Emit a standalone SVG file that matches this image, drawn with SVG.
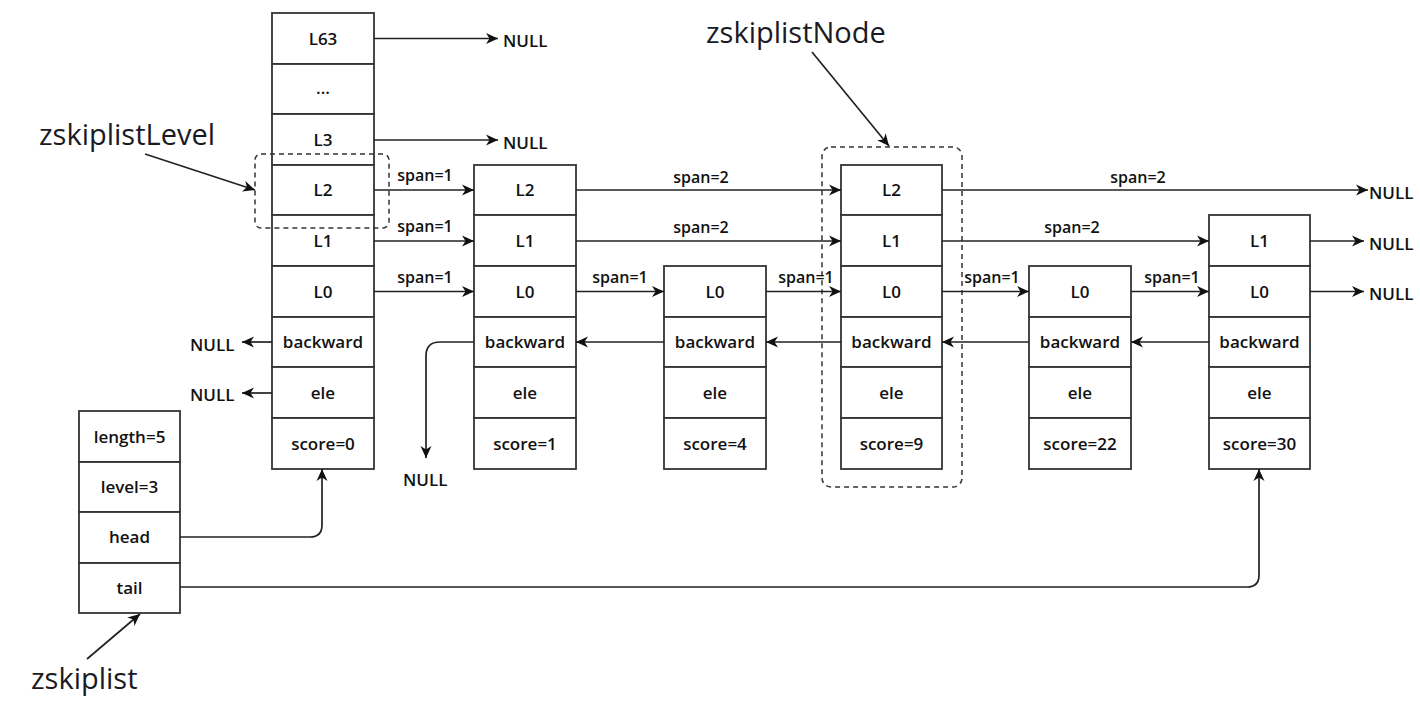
<svg xmlns="http://www.w3.org/2000/svg" width="1420" height="702" viewBox="0 0 1420 702">
<style>
.box{fill:#fff;stroke:#333;stroke-width:1.8}
.t{font-family:"Open Sans","Noto Sans",sans-serif;font-weight:600;font-size:17px;fill:#111;text-anchor:middle}
.s{font-family:"Open Sans","Noto Sans",sans-serif;font-weight:600;font-size:16px;fill:#111;text-anchor:middle}
.n{font-family:"Open Sans","Noto Sans",sans-serif;font-weight:600;font-size:17px;fill:#111}
.big{font-family:"Open Sans","Noto Sans",sans-serif;font-size:29px;fill:#1a1a24}
.c{fill:none;stroke:#222;stroke-width:1.7}
.dash{fill:none;stroke:#333;stroke-width:1.5;stroke-dasharray:5 4}
</style>
<defs>
<marker id="a" markerUnits="userSpaceOnUse" markerWidth="14" markerHeight="12" viewBox="0 0 14 12" refX="12" refY="6" orient="auto">
<path d="M0,0.5 L12,6 L0,11.5 L3.5,6 Z" fill="#111"/>
</marker>
</defs>
<rect width="1420" height="702" fill="#fff"/>

<g id="head">
<rect class="box" x="272" y="13" width="102" height="51"/>
<rect class="box" x="272" y="64" width="102" height="50"/>
<rect class="box" x="272" y="114" width="102" height="51"/>
<rect class="box" x="272" y="165" width="102" height="50"/>
<rect class="box" x="272" y="215" width="102" height="51"/>
<rect class="box" x="272" y="266" width="102" height="51"/>
<rect class="box" x="272" y="317" width="102" height="50"/>
<rect class="box" x="272" y="367" width="102" height="51"/>
<rect class="box" x="272" y="418" width="102" height="51"/>
<text class="t" x="323" y="45">L63</text>
<text class="t" x="323" y="94">...</text>
<text class="t" x="323" y="146">L3</text>
<text class="t" x="323" y="196">L2</text>
<text class="t" x="323" y="247">L1</text>
<text class="t" x="323" y="298">L0</text>
<text class="t" x="323" y="348">backward</text>
<text class="t" x="323" y="399">ele</text>
<text class="t" x="323" y="450">score=0</text>
</g>

<g id="node1">
<rect class="box" x="474" y="165" width="102" height="50"/>
<rect class="box" x="474" y="215" width="102" height="51"/>
<rect class="box" x="474" y="266" width="102" height="51"/>
<rect class="box" x="474" y="317" width="102" height="50"/>
<rect class="box" x="474" y="367" width="102" height="51"/>
<rect class="box" x="474" y="418" width="102" height="51"/>
<text class="t" x="525" y="196">L2</text>
<text class="t" x="525" y="247">L1</text>
<text class="t" x="525" y="298">L0</text>
<text class="t" x="525" y="348">backward</text>
<text class="t" x="525" y="399">ele</text>
<text class="t" x="525" y="450">score=1</text>
</g>

<g id="node2">
<rect class="box" x="664" y="266" width="102" height="51"/>
<rect class="box" x="664" y="317" width="102" height="50"/>
<rect class="box" x="664" y="367" width="102" height="51"/>
<rect class="box" x="664" y="418" width="102" height="51"/>
<text class="t" x="715" y="298">L0</text>
<text class="t" x="715" y="348">backward</text>
<text class="t" x="715" y="399">ele</text>
<text class="t" x="715" y="450">score=4</text>
</g>

<g id="node3">
<rect class="box" x="841" y="165" width="101" height="50"/>
<rect class="box" x="841" y="215" width="101" height="51"/>
<rect class="box" x="841" y="266" width="101" height="51"/>
<rect class="box" x="841" y="317" width="101" height="50"/>
<rect class="box" x="841" y="367" width="101" height="51"/>
<rect class="box" x="841" y="418" width="101" height="51"/>
<text class="t" x="891.5" y="196">L2</text>
<text class="t" x="891.5" y="247">L1</text>
<text class="t" x="891.5" y="298">L0</text>
<text class="t" x="891.5" y="348">backward</text>
<text class="t" x="891.5" y="399">ele</text>
<text class="t" x="891.5" y="450">score=9</text>
</g>

<g id="node4">
<rect class="box" x="1029" y="266" width="102" height="51"/>
<rect class="box" x="1029" y="317" width="102" height="50"/>
<rect class="box" x="1029" y="367" width="102" height="51"/>
<rect class="box" x="1029" y="418" width="102" height="51"/>
<text class="t" x="1080" y="298">L0</text>
<text class="t" x="1080" y="348">backward</text>
<text class="t" x="1080" y="399">ele</text>
<text class="t" x="1080" y="450">score=22</text>
</g>

<g id="node5">
<rect class="box" x="1209" y="215" width="101" height="51"/>
<rect class="box" x="1209" y="266" width="101" height="51"/>
<rect class="box" x="1209" y="317" width="101" height="50"/>
<rect class="box" x="1209" y="367" width="101" height="51"/>
<rect class="box" x="1209" y="418" width="101" height="51"/>
<text class="t" x="1259.5" y="247">L1</text>
<text class="t" x="1259.5" y="298">L0</text>
<text class="t" x="1259.5" y="348">backward</text>
<text class="t" x="1259.5" y="399">ele</text>
<text class="t" x="1259.5" y="450">score=30</text>
</g>

<g id="zskiplist">
<rect class="box" x="79" y="411" width="101" height="51"/>
<rect class="box" x="79" y="462" width="101" height="50"/>
<rect class="box" x="79" y="512" width="101" height="51"/>
<rect class="box" x="79" y="563" width="101" height="50"/>
<text class="t" x="129.5" y="443">length=5</text>
<text class="t" x="129.5" y="493">level=3</text>
<text class="t" x="129.5" y="543">head</text>
<text class="t" x="129.5" y="594">tail</text>
</g>

<g id="annotations">
<rect class="dash" x="255" y="154" width="134" height="74" rx="6"/>
<rect class="dash" x="822" y="147" width="140" height="340" rx="9"/>
<text class="big" x="39" y="145">zskiplistLevel</text>
<text class="big" x="706" y="43">zskiplistNode</text>
<text class="big" x="31" y="689">zskiplist</text>
</g>

<g id="connectors">
<line class="c" x1="145" y1="154" x2="255" y2="190" marker-end="url(#a)"/>
<line class="c" x1="812" y1="52" x2="889" y2="146" marker-end="url(#a)"/>
<line class="c" x1="87" y1="659" x2="140" y2="614" marker-end="url(#a)"/>

<line class="c" x1="374" y1="38.5" x2="498" y2="38.5" marker-end="url(#a)"/>
<line class="c" x1="374" y1="140" x2="498" y2="140" marker-end="url(#a)"/>
<line class="c" x1="374" y1="190" x2="474" y2="190" marker-end="url(#a)"/>
<line class="c" x1="374" y1="241" x2="474" y2="241" marker-end="url(#a)"/>
<line class="c" x1="374" y1="291.5" x2="474" y2="291.5" marker-end="url(#a)"/>
<line class="c" x1="272" y1="342" x2="242" y2="342" marker-end="url(#a)"/>
<line class="c" x1="272" y1="393" x2="242" y2="393" marker-end="url(#a)"/>

<line class="c" x1="576" y1="190" x2="841" y2="190" marker-end="url(#a)"/>
<line class="c" x1="576" y1="241" x2="841" y2="241" marker-end="url(#a)"/>
<line class="c" x1="576" y1="291.5" x2="664" y2="291.5" marker-end="url(#a)"/>
<path class="c" d="M474,342 H440 Q426,342 426,356 V458" marker-end="url(#a)"/>

<line class="c" x1="766" y1="291.5" x2="841" y2="291.5" marker-end="url(#a)"/>
<line class="c" x1="664" y1="342" x2="576" y2="342" marker-end="url(#a)"/>

<line class="c" x1="942" y1="190" x2="1368" y2="190" marker-end="url(#a)"/>
<line class="c" x1="942" y1="241" x2="1209" y2="241" marker-end="url(#a)"/>
<line class="c" x1="942" y1="291.5" x2="1029" y2="291.5" marker-end="url(#a)"/>
<line class="c" x1="841" y1="342" x2="766" y2="342" marker-end="url(#a)"/>

<line class="c" x1="1131" y1="291.5" x2="1209" y2="291.5" marker-end="url(#a)"/>
<line class="c" x1="1029" y1="342" x2="942" y2="342" marker-end="url(#a)"/>

<line class="c" x1="1310" y1="241" x2="1364" y2="241" marker-end="url(#a)"/>
<line class="c" x1="1310" y1="291.5" x2="1364" y2="291.5" marker-end="url(#a)"/>
<line class="c" x1="1209" y1="342" x2="1131" y2="342" marker-end="url(#a)"/>

<path class="c" d="M180,537 H310 Q322,537 322,525 V469" marker-end="url(#a)"/>
<path class="c" d="M180,587 H1247 Q1259,587 1259,575 V469" marker-end="url(#a)"/>

<text class="s" x="425" y="181">span=1</text>
<text class="s" x="425" y="232">span=1</text>
<text class="s" x="425" y="283">span=1</text>
<text class="s" x="701" y="183">span=2</text>
<text class="s" x="701" y="233">span=2</text>
<text class="s" x="620" y="283">span=1</text>
<text class="s" x="806" y="283">span=1</text>
<text class="s" x="1138" y="183">span=2</text>
<text class="s" x="1072" y="233">span=2</text>
<text class="s" x="992" y="283">span=1</text>
<text class="s" x="1172" y="283">span=1</text>

<text class="n" x="503" y="47">NULL</text>
<text class="n" x="503" y="149">NULL</text>
<text class="n" x="190" y="351">NULL</text>
<text class="n" x="190" y="401">NULL</text>
<text class="n" x="403" y="486">NULL</text>
<text class="n" x="1369" y="199">NULL</text>
<text class="n" x="1369" y="250">NULL</text>
<text class="n" x="1369" y="300">NULL</text>
</g>
</svg>
